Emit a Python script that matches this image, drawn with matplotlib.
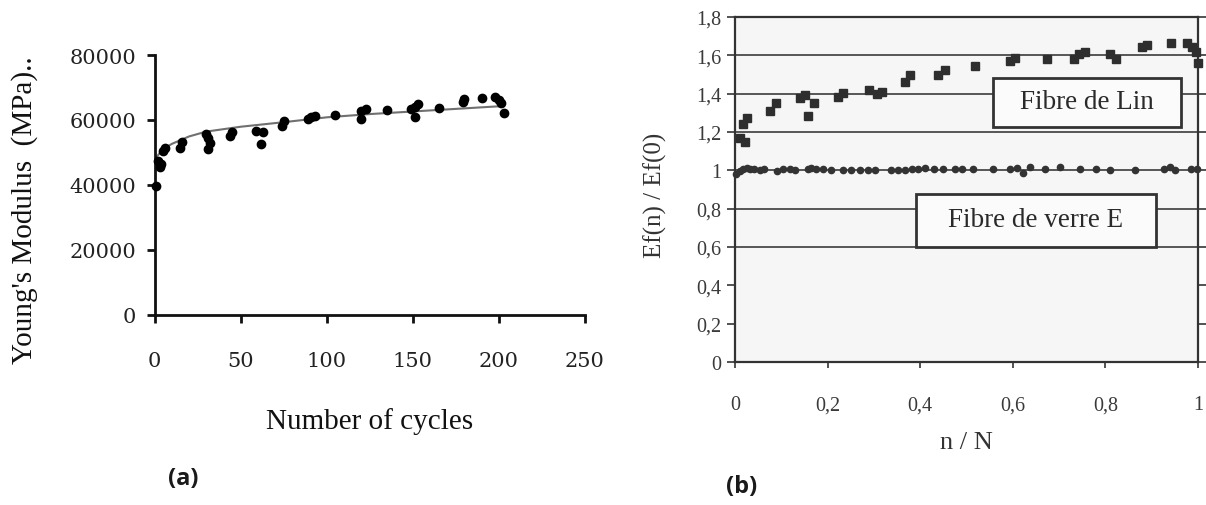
import matplotlib
matplotlib.use("Agg")
import matplotlib.pyplot as plt
from matplotlib.patches import Rectangle

# ---------------- data: panel (a) ----------------
cycles = [1, 2, 3, 4, 5, 6, 15, 16, 30, 31, 32, 31, 44, 45, 59, 63, 62, 74, 75,
          89, 91, 93, 105, 120, 123, 120, 135, 149, 151, 153, 151, 165, 179, 180,
          190, 198, 200, 201, 203]
modulus = [39700, 47500, 45500, 46500, 50500, 51200, 51500, 53100, 55800, 54500,
           53000, 51000, 55000, 56200, 56700, 56200, 52600, 58200, 59800,
           60300, 60800, 61100, 61500, 62800, 63300, 60300, 63100, 63400, 63900,
           64900, 60800, 63700, 65400, 66400, 66600, 67000, 66000, 65200, 62000]
trend_x = [1, 5, 10, 20, 30, 50, 75, 100, 125, 150, 175, 200]
trend_y = [48500, 51000, 52600, 54900, 56400, 57900, 59300, 60800, 61800, 62600,
           63400, 64200]
a_xticks = [0, 50, 100, 150, 200, 250]
a_yticks = [0, 20000, 40000, 60000, 80000]

# ---------------- data: panel (b) ----------------
lin_x = [0.010, 0.017, 0.021, 0.025, 0.075, 0.089, 0.140, 0.151, 0.158, 0.171,
         0.223, 0.234, 0.290, 0.306, 0.317, 0.367, 0.378, 0.439, 0.454, 0.519,
         0.595, 0.605, 0.674, 0.732, 0.742, 0.757, 0.811, 0.822, 0.879, 0.890,
         0.941, 0.977, 0.988, 0.996, 1.000]
lin_y = [1.17, 1.24, 1.15, 1.273, 1.307, 1.35, 1.375, 1.395, 1.286, 1.352,
         1.383, 1.403, 1.417, 1.40, 1.41, 1.459, 1.50, 1.498, 1.522, 1.546,
         1.572, 1.584, 1.583, 1.58, 1.607, 1.619, 1.607, 1.58, 1.642, 1.655,
         1.664, 1.664, 1.642, 1.619, 1.56]
glass_x = [0.003, 0.010, 0.017, 0.025, 0.032, 0.041, 0.054, 0.063, 0.090, 0.104,
           0.118, 0.129, 0.157, 0.165, 0.175, 0.190, 0.208, 0.234, 0.250, 0.270,
           0.288, 0.302, 0.338, 0.353, 0.368, 0.382, 0.396, 0.411, 0.429, 0.450,
           0.476, 0.490, 0.515, 0.558, 0.595, 0.609, 0.623, 0.638, 0.670, 0.703,
           0.746, 0.779, 0.811, 0.865, 0.926, 0.940, 0.951, 0.984, 0.998]
glass_y = [0.982, 0.997, 1.005, 1.010, 1.005, 1.005, 1.000, 1.005, 0.997, 1.005,
           1.005, 1.000, 1.005, 1.014, 1.005, 1.005, 1.000, 1.000, 1.000, 1.000,
           1.000, 1.000, 1.000, 1.000, 1.000, 1.005, 1.005, 1.014, 1.005, 1.005,
           1.005, 1.005, 1.005, 1.005, 1.005, 1.010, 0.985, 1.015, 1.005, 1.015,
           1.005, 1.005, 1.000, 1.000, 1.005, 1.015, 1.000, 1.005, 1.005]
b_xticks = [0, 0.2, 0.4, 0.6, 0.8, 1.0]
b_xlabels = ["0", "0,2", "0,4", "0,6", "0,8", "1"]
b_yticks = [0, 0.2, 0.4, 0.6, 0.8, 1.0, 1.2, 1.4, 1.6, 1.8]
b_ylabels = ["0", "0,2", "0,4", "0,6", "0,8", "1", "1,2", "1,4", "1,6", "1,8"]
grid_levels = [0.6, 0.8, 1.0, 1.2, 1.4, 1.6]

W, H = 1206, 506
fig = plt.figure(figsize=(W / 100, H / 100), dpi=100)
fig.patch.set_facecolor("white")

SERIF = "Liberation Serif"

# ---------------- panel (a) ----------------
axa = fig.add_axes([154.5 / W, 1 - 315.7 / H, 430.5 / W, 259.7 / H])
axa.set_xlim(0, 250)
axa.set_ylim(0, 80000)
axa.plot(trend_x, trend_y, color="#707070", lw=1.5, zorder=2)
axa.plot(cycles, modulus, "o", color="black", ms=6.0, zorder=3, clip_on=False)
for s in ["top", "right"]:
    axa.spines[s].set_visible(False)
for s in ["left", "bottom"]:
    axa.spines[s].set_linewidth(2.0)
    axa.spines[s].set_color("#111111")
axa.set_xticks(a_xticks)
axa.set_yticks(a_yticks)
axa.set_xticklabels([str(v) for v in a_xticks], family="DejaVu Serif", fontsize=15, color="#222222")
axa.set_yticklabels([str(v) for v in a_yticks], family="DejaVu Serif", fontsize=15, color="#222222")
axa.tick_params(axis="both", direction="out", length=6, width=2, color="#111111")
axa.tick_params(axis="x", pad=20)
axa.tick_params(axis="y", pad=7)
axa.patch.set_alpha(0)

fig.text(370 / W, 1 - 422 / H, "Number of cycles", family=SERIF, fontsize=21,
         ha="center", va="center", color="#111111")
fig.text(25 / W, 1 - 210 / H, "Young's Modulus  (MPa)..", family=SERIF, fontsize=21,
         ha="center", va="center", rotation=90, color="#111111")
fig.text(183 / W, 1 - 479 / H, "(a)", family="Open Sans", fontweight="bold",
         fontsize=17, ha="center", va="center", color="#1a1a1a")

# ---------------- panel (b) ----------------
axb = fig.add_axes([735 / W, 1 - 363 / H, 463 / W, 345 / H])
axb.set_facecolor("#f6f6f6")
axb.set_xlim(0, 1)
axb.set_ylim(0, 1.8)
for g in grid_levels:
    axb.axhline(g, color="#4a4a4a", lw=1.3, zorder=1)
axb.plot(glass_x, glass_y, "o", color="#333333", ms=4.5, zorder=3, clip_on=False)
axb.plot(lin_x, lin_y, "s", color="#2e2e2e", ms=5.8, zorder=3, clip_on=False)
for s in axb.spines.values():
    s.set_linewidth(1.6)
    s.set_color("#333333")
axb.set_xticks(b_xticks)
axb.set_xticklabels(b_xlabels, family=SERIF, fontsize=14.5, color="#3a3a3a")
axb.set_yticks(b_yticks)
axb.set_yticklabels(b_ylabels, family=SERIF, fontsize=14.5, color="#3a3a3a")
axb.tick_params(axis="y", direction="out", length=6, width=1.3, color="#444444", pad=4,
                right=True)
axb.tick_params(axis="x", direction="out", length=4, width=1.3, color="#444444", pad=20)

# annotation boxes
box_lin = Rectangle((0.557, 0.681), 0.406, 0.142, transform=axb.transAxes,
                    facecolor="#fbfbfb", edgecolor="#333333", lw=2.0, zorder=4)
axb.add_patch(box_lin)
axb.text(0.760, 0.755, "Fibre de Lin", transform=axb.transAxes, family=SERIF,
         fontsize=19.5, ha="center", va="center", color="#2a2a2a", zorder=5)
box_verre = Rectangle((0.390, 0.333), 0.519, 0.154, transform=axb.transAxes,
                      facecolor="#fbfbfb", edgecolor="#333333", lw=2.0, zorder=4)
axb.add_patch(box_verre)
axb.text(0.650, 0.412, "Fibre de verre E", transform=axb.transAxes, family=SERIF,
         fontsize=19.5, ha="center", va="center", color="#2a2a2a", zorder=5)

fig.text(655 / W, 1 - 195 / H, "Ef(n) / Ef(0)", family=SERIF, fontsize=18,
         ha="center", va="center", rotation=90, color="#333333")
fig.text(966 / W, 1 - 443 / H, "n / N", family=SERIF, fontsize=19,
         ha="center", va="center", color="#333333")
fig.text(742 / W, 1 - 487 / H, "(b)", family="Open Sans", fontweight="bold",
         fontsize=17, ha="center", va="center", color="#1a1a1a")

fig.savefig("out.png", dpi=100)
